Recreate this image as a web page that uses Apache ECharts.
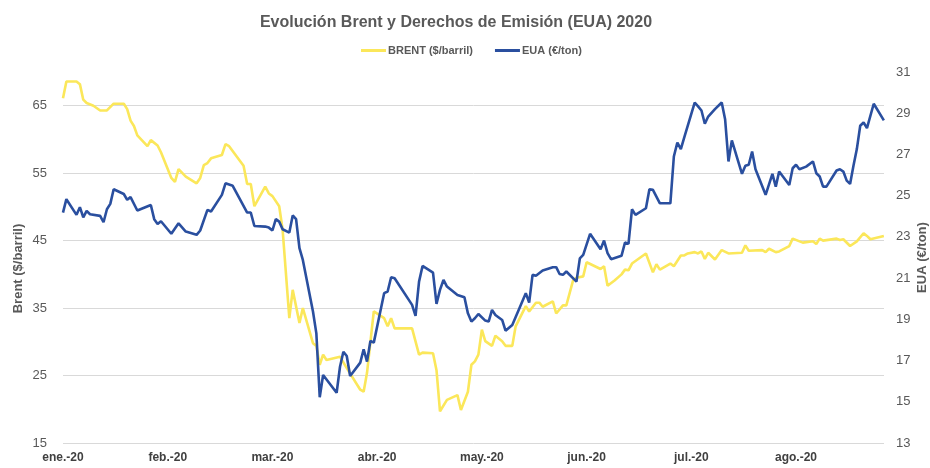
<!DOCTYPE html>
<html>
<head>
<meta charset="utf-8">
<script src="https://cdn.jsdelivr.net/npm/echarts@6/dist/echarts.min.js"></script>
<style>
  html, body { margin: 0; padding: 0; background: #fff; }
  #chart { width: 930px; height: 468px; }
</style>
</head>
<body>
<div id="chart"></div>
<script>
// etiquetas del eje x (inicio de cada mes)
const meses = ['ene.-20', 'feb.-20', 'mar.-20', 'abr.-20', 'may.-20', 'jun.-20', 'jul.-20', 'ago.-20']
const diasMes = [31, 29, 31, 30, 31, 30, 31, 31]

// BRENT ($/barril)
const brentFechas = [
  '01-01', '01-02', '01-05', '01-06', '01-07', '01-08', '01-10', '01-12', '01-14', '01-16', '01-19', '01-20', '01-21', '01-22', '01-23', '01-26', '01-27', '01-29', '01-30',
  '02-02', '02-03', '02-04', '02-06', '02-09', '02-10', '02-11', '02-12', '02-13', '02-16', '02-17', '02-18', '02-22', '02-23', '02-24', '02-25', '02-28', '02-29',
  '03-01', '03-03', '03-04', '03-06', '03-07', '03-09', '03-10', '03-13', '03-14', '03-15', '03-16', '03-17', '03-21', '03-23', '03-27', '03-28', '03-29', '03-31',
  '04-03', '04-04', '04-05', '04-06', '04-11', '04-13', '04-14', '04-17', '04-18', '04-19', '04-21', '04-24', '04-25', '04-27', '04-28', '04-29', '04-30',
  '05-01', '05-02', '05-04', '05-05', '05-07', '05-08', '05-10', '05-11', '05-14', '05-15', '05-17', '05-18', '05-19', '05-22', '05-23', '05-25', '05-26', '05-28', '05-29', '05-31',
  '06-01', '06-05', '06-06', '06-07', '06-09', '06-11', '06-12', '06-13', '06-14', '06-18', '06-20', '06-21', '06-22', '06-25', '06-26', '06-28', '06-29', '06-30',
  '07-02', '07-03', '07-04', '07-05', '07-06', '07-08', '07-10', '07-12', '07-16', '07-17', '07-18', '07-22', '07-23', '07-24', '07-26', '07-27', '07-30', '07-31',
  '08-03', '08-06', '08-07', '08-08', '08-09', '08-13', '08-14', '08-15', '08-17', '08-19', '08-21', '08-22', '08-23', '08-27'
]
const brent = [
  66.1, 68.6, 68.6, 68.2, 65.9, 65.4, 65.0, 64.3, 64.3, 65.3, 65.3, 64.5, 62.8, 62.0, 60.6, 59.0, 59.9, 59.1, 58.1,
  54.3, 53.7, 55.6, 54.5, 53.5, 54.3, 56.2, 56.5, 57.2, 57.7, 59.3, 59.0, 56.1, 53.4, 53.4, 50.1, 53.0, 52.0,
  51.6, 50.1, 46.7, 33.5, 37.7, 32.8, 35.0, 29.8, 29.4, 26.6, 28.1, 27.3, 27.8, 26.1, 22.9, 22.6, 25.4, 34.5,
  33.5, 32.3, 33.5, 32.0, 32.0, 28.1, 28.4, 28.3, 25.8, 19.7, 21.4, 22.1, 19.9, 22.6, 26.6, 27.1, 28.1,
  31.8, 30.1, 29.4, 30.9, 30.1, 29.4, 29.4, 32.3, 35.3, 34.5, 35.8, 35.8, 35.2, 36.0, 34.2, 35.4, 35.4, 39.1, 39.5, 39.7,
  41.8, 40.8, 41.2, 38.3, 39.1, 40.0, 40.7, 40.6, 41.6, 43.1, 40.3, 41.5, 40.7, 41.6, 41.2, 42.8, 42.8, 43.1,
  43.3, 43.1, 43.4, 42.3, 43.2, 42.2, 43.6, 43.1, 43.2, 44.3, 43.5, 43.6, 43.3, 43.8, 43.3, 43.4, 44.2, 45.3,
  44.7, 44.9, 44.5, 45.3, 45.0, 45.3, 45.1, 45.2, 44.2, 44.9, 46.1, 45.7, 45.2, 45.7
]

// EUA (€/ton)
const euaFechas = [
  '01-01', '01-02', '01-05', '01-06', '01-07', '01-08', '01-09', '01-12', '01-13', '01-14', '01-15', '01-16', '01-19', '01-20', '01-21', '01-23', '01-27', '01-28', '01-29', '01-30',
  '02-02', '02-04', '02-06', '02-09', '02-10', '02-12', '02-13', '02-16', '02-17', '02-19', '02-23', '02-24', '02-25', '02-28', '02-29',
  '03-01', '03-02', '03-03', '03-04', '03-06', '03-07', '03-08', '03-09', '03-10', '03-13', '03-14', '03-15', '03-16', '03-20', '03-21', '03-22', '03-23', '03-24', '03-27', '03-28', '03-29', '03-30', '03-31',
  '04-03', '04-04', '04-05', '04-06', '04-11', '04-12', '04-13', '04-14', '04-17', '04-18', '04-19', '04-20', '04-21', '04-24', '04-26', '04-27', '04-28', '04-29', '04-30',
  '05-02', '05-03', '05-04', '05-05', '05-07', '05-08', '05-10', '05-14', '05-15', '05-16', '05-17', '05-19', '05-22', '05-23', '05-24', '05-25', '05-26', '05-29', '05-30', '05-31',
  '06-02', '06-05', '06-06', '06-07', '06-08', '06-11', '06-12', '06-13', '06-14', '06-15', '06-18', '06-19', '06-20', '06-22', '06-25', '06-26', '06-27', '06-28', '06-29',
  '07-02', '07-03', '07-04', '07-05', '07-06', '07-08', '07-10', '07-11', '07-12', '07-13', '07-16', '07-17', '07-18', '07-19', '07-20', '07-23', '07-25', '07-26', '07-27', '07-30', '07-31',
  '08-01', '08-02', '08-04', '08-06', '08-07', '08-08', '08-09', '08-10', '08-13', '08-14', '08-15', '08-16', '08-17', '08-18', '08-19', '08-20', '08-21', '08-22', '08-24', '08-27'
]
const eua = [
  24.18, 24.83, 24.07, 24.44, 23.95, 24.26, 24.1, 24.02, 23.71, 24.34, 24.6, 25.31, 25.08, 24.8, 24.93, 24.28, 24.55, 23.86, 23.63, 23.76,
  23.15, 23.66, 23.26, 23.1, 23.31, 24.31, 24.23, 25.04, 25.6, 25.48, 24.18, 24.18, 23.53, 23.5, 23.45,
  23.31, 23.86, 23.74, 23.37, 23.21, 24.04, 23.86, 22.45, 21.88, 19.38, 18.32, 15.22, 16.3, 15.44, 16.7, 17.43, 17.22, 16.25, 16.9, 17.55, 16.95, 17.95, 17.87,
  20.27, 20.35, 21.04, 20.99, 19.7, 19.17, 20.83, 21.59, 21.27, 19.75, 20.43, 20.91, 20.59, 20.18, 20.07, 19.29, 18.89, 19.05, 19.26,
  18.94, 18.89, 19.46, 19.21, 18.97, 18.45, 18.73, 20.27, 19.81, 21.16, 21.11, 21.37, 21.53, 21.53, 21.2, 21.16, 21.32, 20.83, 21.96, 22.13,
  23.15, 22.4, 22.82, 22.21, 21.92, 22.08, 22.73, 22.66, 24.34, 24.07, 24.39, 25.31, 25.28, 24.63, 24.63, 26.9, 27.58, 27.26, 27.84,
  29.52, 29.33, 29.13, 28.49, 28.84, 29.2, 29.52, 28.71, 26.66, 27.68, 26.06, 26.45, 26.5, 27.14, 26.28, 25.04, 26.06, 25.44, 26.17, 25.52, 26.33,
  26.5, 26.28, 26.41, 26.66, 26.09, 25.93, 25.44, 25.44, 26.22, 26.28, 26.17, 25.73, 25.57, 26.45, 27.26, 28.39, 28.55, 28.28, 29.46, 28.65
]

// cada mes ocupa el mismo ancho en el eje (como en el original)
function posicion (fecha) {
  const m = Number(fecha.slice(0, 2)) - 1
  const d = Number(fecha.slice(3))
  return m + (d - 1) / diasMes[m]
}

function serie (fechas, valores) {
  return fechas.map((f, i) => [posicion(f), valores[i]])
}

const gris = '#595959'
const fuente = 'Arial, "Liberation Sans", sans-serif'

const chart = echarts.init(document.getElementById('chart'))
chart.setOption({
  animation: false,
  textStyle: { fontFamily: fuente },
  title: {
    text: 'Evolución Brent y Derechos de Emisión (EUA) 2020',
    left: 451,
    textAlign: 'center',
    top: 10,
    textStyle: { fontSize: 16, fontWeight: 'bold', color: gris }
  },
  legend: {
    top: 40,
    left: 356,
    icon: 'rect',
    itemWidth: 25,
    itemHeight: 3,
    itemGap: 22,
    textStyle: { fontSize: 11, fontWeight: 'bold', color: gris, padding: [0, 0, 0, -3] },
    data: ['BRENT ($/barril)', 'EUA (€/ton)']
  },
  grid: { left: 63, right: 46, top: 72, bottom: 25, outerBoundsMode: 'none', containLabel: false },
  xAxis: {
    type: 'value',
    min: 0,
    max: 7.84,
    interval: 1,
    axisLine: { show: false },
    axisTick: { show: false },
    splitLine: { show: false },
    axisLabel: {
      showMaxLabel: false,
      margin: 9,
      fontSize: 12,
      fontWeight: 'bold',
      color: '#404040',
      formatter: v => (Number.isInteger(v) ? meses[v] : '')
    }
  },
  yAxis: [
    {
      type: 'value',
      min: 15,
      max: 70,
      interval: 10,
      name: 'Brent ($/barril)',
      nameLocation: 'middle',
      nameMoveOverlap: false,
      nameGap: 38,
      nameTextStyle: { fontSize: 13, fontWeight: 'bold', color: gris, padding: [0, 22, 0, 0] },
      axisLine: { show: false },
      axisTick: { show: false },
      axisLabel: { showMaxLabel: false, margin: 16, fontSize: 13, color: gris },
      splitLine: { showMaxLine: false, lineStyle: { color: '#d9d9d9', width: 1 } }
    },
    {
      type: 'value',
      min: 13,
      max: 31,
      interval: 2,
      position: 'right',
      name: 'EUA (€/ton)',
      nameLocation: 'middle',
      nameMoveOverlap: false,
      nameRotate: 90,
      nameGap: 32,
      nameTextStyle: { fontSize: 13, fontWeight: 'bold', color: gris },
      axisLine: { show: false },
      axisTick: { show: false },
      axisLabel: { margin: 12, fontSize: 13, color: gris },
      splitLine: { show: false }
    }
  ],
  series: [
    {
      name: 'BRENT ($/barril)',
      type: 'line',
      yAxisIndex: 0,
      symbol: 'none',
      color: '#fbe75a',
      lineStyle: { width: 2.6, color: '#fbe75a' },
      data: serie(brentFechas, brent)
    },
    {
      name: 'EUA (€/ton)',
      type: 'line',
      yAxisIndex: 1,
      symbol: 'none',
      color: '#2a4f9f',
      lineStyle: { width: 2.6, color: '#2a4f9f' },
      data: serie(euaFechas, eua)
    }
  ]
})
</script>
</body>
</html>
